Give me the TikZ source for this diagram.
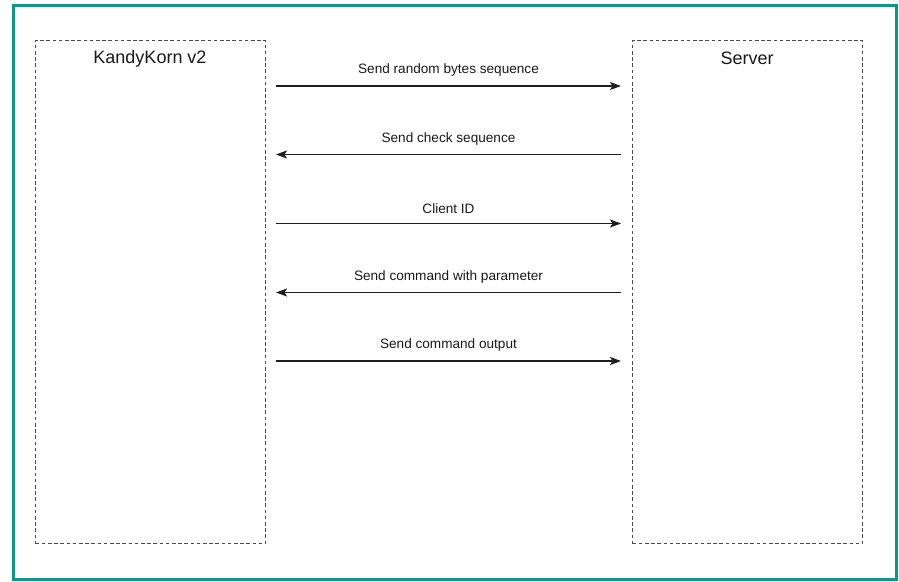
\documentclass[tikz,border=0pt]{standalone}
\usepackage{fontspec}
\setmainfont{Liberation Sans}
\usetikzlibrary{arrows.meta}
\definecolor{frameteal}{RGB}{16,150,136}
\definecolor{ink}{RGB}{30,30,30}
\begin{document}
\begin{tikzpicture}[x=1pt,y=-1pt,
  party/.style={draw=ink!80, line width=1.3pt, dash pattern=on 3.6pt off 2.6pt,
    minimum width=230pt, minimum height=503pt, anchor=north west, inner sep=0pt},
  title/.style={font=\fontsize{18}{20}\selectfont, text=black!90},
  msg/.style={draw=ink, line width=1.3pt, -{Stealth[length=11pt,width=8pt,inset=2.5pt]}},
  msglabel/.style={font=\fontsize{13.6}{15}\selectfont, text=black!90}]
  \useasboundingbox (0,0) rectangle (899,581);
  % outer frame
  \draw[frameteal, line width=3pt] (13.5,5.5) rectangle (896,579.5);
  % participants
  \node[party] (client) at (35,40) {};
  \node[party] (server) at (632,40) {};
  \node[title] (clientname) at (150,58.5) {KandyKorn v2};
  \node[title] (servername) at (747,58.5) {Server};
  % message anchors
  \foreach \i/\y in {1/86,2/154.5,3/223.5,4/292.5,5/361}{
    \coordinate (c\i) at (276,\y);
    \coordinate (s\i) at (621,\y);
  }
  % messages
  \draw[msg] (c1) -- (s1) node[msglabel, midway, above=5.5pt] (m1) {Send random bytes sequence};
  \draw[msg] (s2) -- (c2) node[msglabel, midway, above=5.5pt] (m2) {Send check sequence};
  \draw[msg] (c3) -- (s3) node[msglabel, midway, above=5.5pt] (m3) {Client ID};
  \draw[msg] (s4) -- (c4) node[msglabel, midway, above=5.5pt] (m4) {Send command with parameter};
  \draw[msg] (c5) -- (s5) node[msglabel, midway, above=5.5pt] (m5) {Send command output};
\end{tikzpicture}
\end{document}
